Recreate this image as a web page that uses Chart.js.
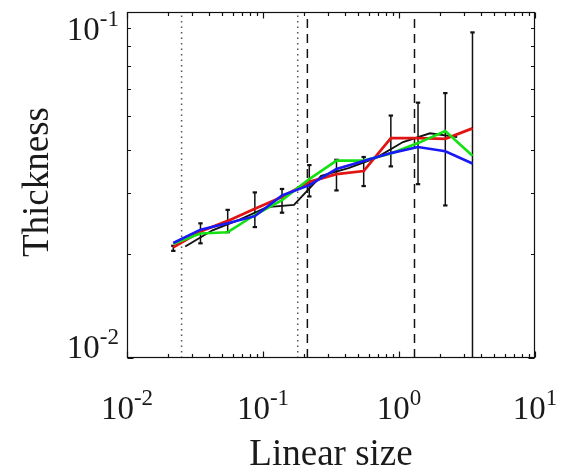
<!DOCTYPE html>
<html><head><meta charset="utf-8">
<script src="https://cdn.jsdelivr.net/npm/chart.js@4.4.1/dist/chart.umd.min.js"></script>
<style>html,body{margin:0;padding:0;background:#fff}#wrap{width:567px;height:472px;position:relative}</style>
</head><body><div id="wrap"><canvas id="c"></canvas></div>
<script>
// ---- data ----
const xBins     = [0.0219, 0.0347, 0.0550, 0.0871, 0.138, 0.219, 0.347, 0.550, 0.871, 1.38, 2.19, 3.47];
const redVals   = [0.0209, 0.0232, 0.0249, 0.0270, 0.0292, 0.0323, 0.0340, 0.0347, 0.0432, 0.0432, 0.0430, 0.0461];
const greenVals = [0.0214, 0.0229, 0.0231, 0.0259, 0.0286, 0.0329, 0.0372, 0.0372, 0.0390, 0.0418, 0.0453, 0.0384];
const blueVals  = [0.0215, 0.0235, 0.0245, 0.0257, 0.0295, 0.0316, 0.0352, 0.0371, 0.0391, 0.0407, 0.0396, 0.0365];
const blackX    = [0.0268, 0.0425, 0.0673, 0.107, 0.169, 0.268, 0.425, 0.673, 1.07, 1.69, 2.68];
const blackVals = [0.0210, 0.0234, 0.0251, 0.0273, 0.0277, 0.0336, 0.0354, 0.0378, 0.0421, 0.0446, 0.0435];
const errLow    = [0.0204, 0.02145, 0.0231, 0.0239, 0.0263, 0.0293, 0.0305, 0.0314, 0.0358, 0.0318, 0.0276, 0.005];
const errHigh   = [0.0211, 0.0245, 0.0268, 0.0301, 0.0308, 0.0361, 0.0374, 0.0381, 0.0502, 0.0547, 0.0583, 0.0873];
const dottedX   = [0.0252, 0.180];
const dashedX   = [0.212, 1.30];
const xTickVals   = [0.01, 0.1, 1, 10];
const xTickLabels = [['10','-2'], ['10','-1'], ['10','0'], ['10','1']];
const yTickVals   = [0.01, 0.1];
const yTickLabels = [['10','-2'], ['10','-1']];
const xTitle = 'Linear size';
const yTitle = 'Thickness';
const minorMantissas = [2,3,4,5,6,7,8,9];

const SERIF = '"Liberation Serif","Times New Roman",serif';

function pts(xs, ys){ return xs.map((x,i)=>({x:x, y:ys[i]})); }
const errData = [];
xBins.forEach((x,i)=>{ errData.push({x:x,y:errLow[i]},{x:x,y:errHigh[i]},{x:x,y:null}); });

function vline(x, dash, color, w){
  return {data:[{x:x,y:0.01},{x:x,y:0.1}], borderColor:color, borderWidth:w, borderDash:dash,
          pointRadius:0, fill:false, tension:0};
}

const datasets = [
  {label:'blue',  data:pts(xBins, blueVals),  borderColor:'rgb(25,25,245)', borderWidth:2.6, pointRadius:0},
  {label:'green', data:pts(xBins, greenVals), borderColor:'rgb(20,225,20)', borderWidth:2.6, pointRadius:0},
  {label:'red',   data:pts(xBins, redVals),   borderColor:'rgb(225,20,20)', borderWidth:2.8, pointRadius:0},
  {label:'black', data:pts(blackX, blackVals), borderColor:'#111', borderWidth:1.9, pointRadius:0},
  {label:'err', data:errData, borderColor:'#111', borderWidth:1.5, spanGaps:false,
   pointStyle:'line', pointRadius:2.2, pointBorderWidth:2.2, pointBorderColor:'#111', pointBackgroundColor:'#111'},
  ...dashedX.map(x=>vline(x,[9,6],'#111',1.5)),
  ...dottedX.map(x=>vline(x,[1.5,4],'#555',1.5))
];

const MAIN = 33, SUP = 23, RAISE = 14;
function drawPow(ctx, base, exp, x, y, align){
  ctx.font = MAIN + 'px ' + SERIF;
  const wb = ctx.measureText(base).width;
  ctx.font = SUP + 'px ' + SERIF;
  const we = ctx.measureText(exp).width;
  const tot = wb + we;
  let x0 = align === 'right' ? x - tot : x - tot/2;
  ctx.textAlign = 'left';
  ctx.textBaseline = 'alphabetic';
  ctx.font = MAIN + 'px ' + SERIF;
  ctx.fillText(base, x0, y);
  ctx.font = SUP + 'px ' + SERIF;
  ctx.fillText(exp, x0 + wb, y - RAISE);
}

const axesPlugin = {
  id:'matlabAxes',
  afterDraw(chart){
    const ctx = chart.ctx, a = chart.chartArea, xs = chart.scales.x, ys = chart.scales.y;
    ctx.save();
    ctx.strokeStyle = '#111'; ctx.lineWidth = 1.2;
    const L = Math.round(a.left)+0.5, R = Math.round(a.right)-0.5, T = Math.round(a.top)+0.5, B = Math.round(a.bottom)-0.5;
    ctx.strokeRect(L, T, R-L, B-T);
    ctx.beginPath();
    for (let d = 0; d < xTickVals.length; d++){
      const dec = xTickVals[d];
      const ms = d < xTickVals.length-1 ? [1].concat(minorMantissas) : [1];
      ms.forEach(m=>{
        const px = Math.round(xs.getPixelForValue(dec*m))+0.5;
        const len = m===1 ? 6 : 3.5;
        ctx.moveTo(px, B); ctx.lineTo(px, B-len);
        ctx.moveTo(px, T); ctx.lineTo(px, T+len);
      });
    }
    for (let d = 0; d < yTickVals.length; d++){
      const dec = yTickVals[d];
      const ms = d < yTickVals.length-1 ? [1].concat(minorMantissas) : [1];
      ms.forEach(m=>{
        const py = Math.round(ys.getPixelForValue(dec*m))+0.5;
        const len = m===1 ? 6 : 3.5;
        ctx.moveTo(L, py); ctx.lineTo(L+len, py);
        ctx.moveTo(R, py); ctx.lineTo(R-len, py);
      });
    }
    ctx.stroke();
    ctx.fillStyle = '#1a1a1a';
    xTickVals.forEach((v,i)=>{
      drawPow(ctx, xTickLabels[i][0], xTickLabels[i][1], xs.getPixelForValue(v), a.bottom + 61, 'center');
    });
    const h = 28;
    yTickVals.forEach((v,i)=>{
      const py = ys.getPixelForValue(v);
      let base = py + h/2;
      base = Math.max(base, a.top + h);
      base = Math.min(base, a.bottom);
      drawPow(ctx, yTickLabels[i][0], yTickLabels[i][1], a.left - 8, base, 'right');
    });
    ctx.font = '37px ' + SERIF;
    ctx.textAlign = 'center'; ctx.textBaseline = 'alphabetic';
    ctx.fillText(xTitle, (a.left+a.right)/2, a.bottom + 107);
    ctx.save();
    ctx.translate(a.left - 79, (a.top+a.bottom)/2 - 3);
    ctx.rotate(-Math.PI/2);
    ctx.fillText(yTitle, 0, 0);
    ctx.restore();
    ctx.restore();
  }
};

new Chart(document.getElementById('c'), {
  type:'line',
  data:{datasets:datasets},
  options:{
    responsive:true, maintainAspectRatio:false, animation:false,
    layout:{padding:{left:127, right:32, top:12, bottom:114}},
    plugins:{legend:{display:false}, tooltip:{enabled:false}},
    elements:{line:{tension:0, fill:false}},
    scales:{
      x:{type:'logarithmic', min:0.01, max:10, display:false},
      y:{type:'logarithmic', min:0.01, max:0.1, display:false}
    }
  },
  plugins:[axesPlugin]
});
</script></body></html>
